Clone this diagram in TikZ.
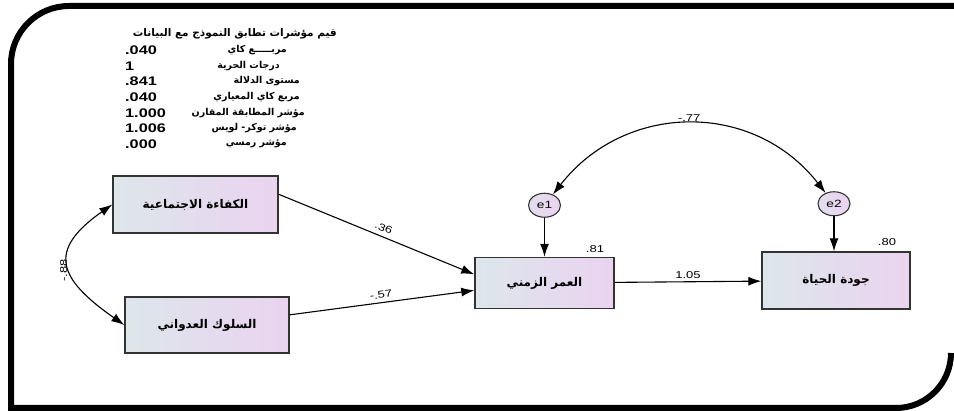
\documentclass[tikz,border=0pt]{standalone}
\usepackage{fontspec}
\setmainfont{Liberation Sans}[FakeStretch=1.3]
\newfontfamily\arabicfont[Script=Arabic]{DejaVu Sans}
\TeXXeTstate=1
\usepackage{tikz}
\usetikzlibrary{arrows.meta,shapes,positioning}
\usepackage{xcolor}
\definecolor{boxleft}{HTML}{DDE6EB}
\definecolor{boxright}{HTML}{EAD3F0}
\definecolor{boxline}{HTML}{333333}
\newcommand{\artext}[1]{{\arabicfont\bfseries\beginR #1\endR}}
\tikzset{
        block/.style = {draw=boxline, rectangle, line width=1.4pt,
            left color=boxleft, right color=boxright,
            font=\fontsize{12}{12}\selectfont,
            minimum height=56pt,
            minimum width=164pt},
        errnode/.style = {draw=boxline, ellipse, line width=1.1pt,
            left color=boxleft!60!boxright, right color=boxright,
            inner sep=0pt, minimum width=32pt, minimum height=24pt,
            font=\fontsize{10.5}{10.5}\selectfont},
        arrow/.style = {draw, line width=1.1pt, -{Latex[length=13pt,width=9pt]}},
        dblarrow/.style = {draw, line width=1.1pt,
            {Latex[length=13pt,width=9pt]}-{Latex[length=13pt,width=9pt]}},
        coef/.style = {font=\fontsize{10}{10}\selectfont, inner sep=2.5pt},
        fittitle/.style = {anchor=east, inner sep=0pt, font=\fontsize{10.5}{11}\selectfont},
        fitlabel/.style = {anchor=east, inner sep=0pt, font=\fontsize{9.5}{10}\selectfont},
        fitvalue/.style = {anchor=west, inner sep=0pt, font=\bfseries\fontsize{12.5}{13}\selectfont},
        frame/.style = {line width=6pt, line join=miter},
    }

\begin{document}
\begin{tikzpicture}[x=1pt,y=1pt]
    \useasboundingbox (0,0) rectangle (954,-411);
    \draw[frame] (954,-6) -- (69,-6) arc[start angle=90, end angle=180, radius=58]
        -- (11,-408) -- (896,-408) arc[start angle=270, end angle=360, radius=55];

    % fit indices
    \node[fittitle] (title) at (337,-34) {\artext{قيم مؤشرات تطابق النموذج مع البيانات}};
    \node[fitlabel] (chil) at (287,-50) {\artext{مربـــــع كاي}};
    \node[fitvalue] (chiv) at (125,-50) {.040};
    \node[fitlabel] (dfl) at (280,-66) {\artext{درجات الحرية}};
    \node[fitvalue] (dfv) at (125,-66) {1};
    \node[fitlabel] (pl) at (300,-81) {\artext{مستوى الدلالة}};
    \node[fitvalue] (pv) at (125,-81) {.841};
    \node[fitlabel] (cminl) at (300,-97) {\artext{مربع كاي المعياري}};
    \node[fitvalue] (cminv) at (125,-97) {.040};
    \node[fitlabel] (cfil) at (305,-113) {\artext{مؤشر المطابقة المقارن}};
    \node[fitvalue] (cfiv) at (125,-113) {1.000};
    \node[fitlabel] (tlil) at (297,-128) {\artext{مؤشر توكر- لويس}};
    \node[fitvalue] (tliv) at (125,-128) {1.006};
    \node[fitlabel] (rmseal) at (287,-144) {\artext{مؤشر رمسي}};
    \node[fitvalue] (rmseav) at (125,-144) {.000};

    % observed variables
    \node[block, minimum width=165pt, minimum height=57pt] (kafa) at (195.5,-204.5) {\artext{الكفاءة الاجتماعية}};
    \node[block] (suluk) at (207,-325) {\artext{السلوك العدواني}};
    \node[block, minimum width=139pt, minimum height=51pt] (umur) at (544.5,-283) {\artext{العمر الزمني}};
    \node[block, minimum width=148pt, minimum height=57pt] (jawda) at (836,-280.5) {\artext{جودة الحياة}};

    % residuals
    \node[errnode, above=39pt of umur] (e1) {e1};
    \node[errnode, above=35pt of jawda, xshift=-2pt] (e2) {e2};

    % paths
    \draw[arrow] (kafa.7) -- (umur.173) node[coef, pos=0.52, above=2pt, sloped] {.36};
    \draw[arrow] (suluk.7) -- (umur.186) node[coef, pos=0.5, above=1pt, sloped] {-.57};
    \draw[arrow] (umur) -- (jawda) node[coef, pos=0.5, above] {1.05};
    \draw[arrow] (e1) -- (umur);
    \draw[arrow] (e2) -- (e2 |- jawda.north);
    \draw[dblarrow] (suluk.west) to[out=145, in=215, looseness=1.7]
        node[coef, pos=0.45, anchor=south, rotate=90] {-.88} (kafa.west);
    \draw[dblarrow] (e1) to[out=52, in=128, looseness=1.1]
        node[coef, pos=0.5, above] {-.77} (e2);

    % squared multiple correlations
    \node[coef] (r1) at (595,-249) {.81};
    \node[coef] (r2) at (887,-242) {.80};
\end{tikzpicture}
\end{document}
